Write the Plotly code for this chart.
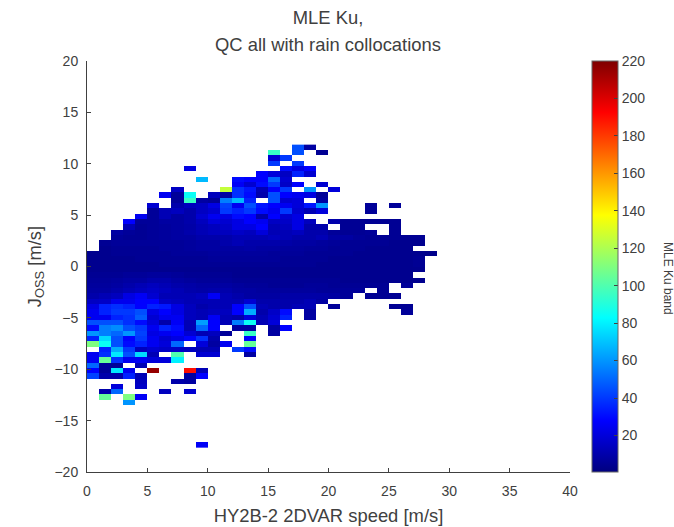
import plotly.graph_objects as go

N = None
# MLE Ku-band value per cell; each row lists speed bins from 0-1 m/s upward, top J_OSS row first
rows = [
 [N]*17+[45,8],
 [N]*15+[95,N,45,N,5],
 [N]*15+[18,40],
 [N]*15+[40,N,40],
 [N]*8+[22]+[N]*7+[30,22,28],
 [N]*14+[28,20,15,35,18],
 [N]*9+[68,N,N,30,28,28,50,18],
 [N]*12+[26,18,30,40,16,28,N,18],
 [N]*7+[15,N,N,N,125,38,32,12,28,40,N,60,N,20],
 [N]*6+[25,6,85,N,14,8,38,30,10,45,28,25,22,6],
 [N]*7+[6,95,8,6,55,68,35,N,45,18,20,N,8],
 [N]*5+[18,N,10,14,15,22,42,25,45,32,28,25,20,32,60,N,N,N,6,N,6],
 [N]*5+[6,12,14,10,15,18,40,35,40,30,25,40,18,12,20,N,N,N,6],
 [N]*4+[25,6,12,8,10,18,25,22,30,28,10,28,18,22],
 [N]*3+[28,6,6,8,8,10,14,20,18,22,28,25,15,16,22,14,N,10,5,5,5,5,5],
 [N]*3+[12,5,6,7,8,9,12,14,16,22,22,28,12,14,22,10,10,N,5,5,N,N,5],
 [N]*2+[8,6,5,6,7,8,10,12,14,14,16,14,20,12,12,14,10,10,6,5,5,6,N,5],
 [N]*2+[6,5,5,6,7,8,8,10,10,10,12,12,12,14,12,10,10,12,8,8,6,5,5,5,5,5],
 [N]+[5,6,6,6,6,6,6,7,8,8,10,12,10,10,10,9,8,8,7,6,5,5,5,5,4,4,4],
 [N]+[4,5,5,5,5,6,6,7,8,8,8,8,9,8,8,7,7,6,6,5,5,5,4,4,4,4],
 [4,4,5,5,5,5,5,6,6,6,7,7,7,7,7,6,6,6,5,5,5,5,4,4,4,4,4,4,3],
 [4,4,4,4,5,5,5,5,5,5,6,6,6,6,6,6,5,5,5,5,4,4,4,4,4,4,4,5],
 [4,4,4,4,4,4,5,5,5,5,5,5,5,5,5,5,5,5,5,4,4,4,4,4,4,4,4,5],
 [4,4,4,4,4,4,4,4,4,4,4,4,4,4,4,4,4,4,4,4,4,4,4,4,4,4,4,4],
 [5,5,5,6,6,7,7,6,5,5,5,5,4,4,4,4,4,4,4,4,4,4,4,4,4,4,4],
 [6,6,7,8,8,10,10,8,7,6,6,6,5,5,5,5,5,5,5,5,5,4,4,4,4,4,4,4],
 [7,7,8,10,12,14,12,10,9,8,8,8,7,6,6,5,5,5,6,6,5,5,5,5,5,N,6],
 [8,8,10,12,14,16,14,12,10,9,10,10,8,8,7,7,7,7,7,6,6,6,6,N,5],
 [10,12,14,22,26,18,12,12,12,14,26,12,10,8,8,8,9,9,9,9,8,6,N,5,5,5],
 [15,16,24,24,28,28,16,14,12,12,12,12,12,18,10,10,10,10,12,8],
 [22,35,38,35,28,35,33,22,14,10,12,12,28,45,12,10,10,12,12,N,6,N,N,N,N,5,5],
 [25,35,40,40,45,22,28,22,14,12,14,14,28,65,10,16,30,N,8,N,N,N,N,N,N,N,6],
 [25,25,35,38,48,18,24,25,14,12,26,12,10,20,12,18,35,N,8],
 [45,45,45,38,30,20,10,26,12,62,28,12,55,85,12,20],
 [30,55,58,45,40,25,35,30,12,50,28,N,8,8,N,8,28],
 [60,55,50,60,42,22,25,28,18,12,14,6,N,95,N,8],
 [35,75,45,28,40,25,18,22,28,38,10,N,N,28],
 [110,85,45,30,35,25,20,50,N,20,8,25,N,105],
 [N,35,65,40,14,18,16,16,14,12,12,N,40,30],
 [25,38,78,45,75,12,N,100,N,18,18,N,N,8],
 [25,105,38,25,25,20,20,80],
 [50,6,6,N,12],
 [28,6,78,25,N,215,N,N,190,12],
 [42,10,10,35,12,N,N,N,8,28],
 [N,N,N,N,14,N,N,10,8],
 [N,N,20,N,16],
 [N,10,50,N,N,N,14,N,18],
 [N,105,N,110,26],
 [N,N,N,60],
 [],[],[],[],[],[],[],
 [N]*9+[26],
]
speed_ticks = [0, 5, 10, 15, 20, 25, 30, 35, 40]
joss_ticks = [-20, -15, -10, -5, 0, 5, 10, 15, 20]
cbar_ticks = [20, 40, 60, 80, 100, 120, 140, 160, 180, 200, 220]

z = [r + [N]*(29-len(r)) for r in rows]
jet = [[0, "#00007f"], [0.125, "#0000ff"], [0.375, "#00ffff"],
       [0.625, "#ffff00"], [0.875, "#ff0000"], [1, "#7f0000"]]
INK = "#404040"
FONT = "Liberation Sans, Arial, sans-serif"

fig = go.Figure(go.Heatmap(
    z=z, x0=0.5, dx=1, y0=11.6, dy=-0.517,
    colorscale=jet, zmin=0.5, zmax=220, hoverongaps=False,
    colorbar=dict(
        x=1.0455, xanchor="left", xpad=0, y=0.5, yanchor="middle",
        len=1, lenmode="fraction", ypad=0, thickness=26, thicknessmode="pixels",
        tickmode="array", tickvals=cbar_ticks, ticks="inside", ticklen=4,
        tickcolor=INK, outlinecolor="#666666", outlinewidth=1,
        tickfont=dict(size=14, color=INK, family=FONT),
    ),
))
axis = dict(showgrid=False, zeroline=False, ticks="inside", ticklen=4, tickcolor=INK,
            showline=True, linecolor=INK, linewidth=1, mirror=False, automargin=False,
            tickfont=dict(size=14, color=INK, family=FONT))
fig.update_xaxes(range=[0, 40], tickmode="array", tickvals=speed_ticks, ticklabelstandoff=6,
                 title=dict(text="HY2B-2 2DVAR speed [m/s]", standoff=11,
                            font=dict(size=18.4, color=INK, family=FONT)), **axis)
fig.update_yaxes(range=[-20, 20], tickmode="array", tickvals=joss_ticks, ticklabelstandoff=5,
                 title=dict(text="J<sub>OSS</sub> [m/s]", standoff=8,
                            font=dict(size=18.4, color=INK, family=FONT)), **axis)
fig.update_layout(
    width=674, height=527, margin=dict(l=87, r=104, t=61, b=55, autoexpand=False),
    paper_bgcolor="white", plot_bgcolor="white",
    title=dict(text='<span style="font-size:18.4px">MLE Ku,</span><br>'
                    '<span style="font-size:18.4px">QC all with rain collocations</span>',
               x=328/674, xanchor="center",
               y=0.954, yanchor="top", font=dict(size=20.7, color=INK, family=FONT)),
    annotations=[dict(text="MLE Ku band", xref="paper", yref="paper", x=1.203, y=0.472,
                      xanchor="center", yanchor="middle", textangle=90, showarrow=False,
                      font=dict(size=12, color=INK, family=FONT))],
)
fig.write_html("out.html", config={"displayModeBar": False},
               post_script="document.body.style.margin='0';")
